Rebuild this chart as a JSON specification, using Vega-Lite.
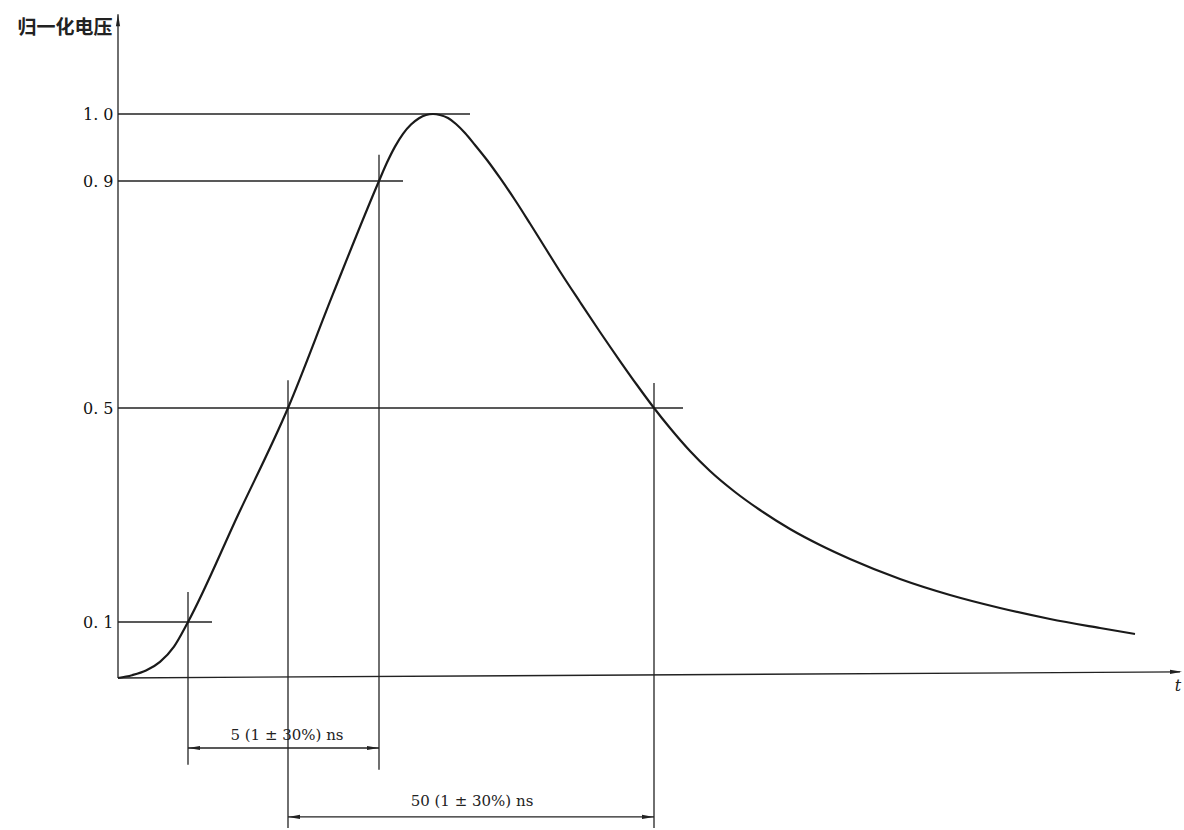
{
  "$schema": "https://vega.github.io/schema/vega-lite/v6.json",
  "autosize": "none",
  "padding": {"left": 118, "top": 0, "right": 0, "bottom": 0},
  "width": 1066,
  "height": 830,
  "background": "white",
  "config": {"view": {"stroke": null}},
  "datasets": {
    "curve": [
      {"t": 0, "v": 0}, {"t": 14, "v": 0.005}, {"t": 28, "v": 0.0132}, {"t": 42, "v": 0.0287},
      {"t": 56, "v": 0.0561}, {"t": 70, "v": 0.1}, {"t": 120, "v": 0.3}, {"t": 170, "v": 0.5},
      {"t": 215, "v": 0.701}, {"t": 261, "v": 0.9}, {"t": 269, "v": 0.9275}, {"t": 277, "v": 0.9513},
      {"t": 285, "v": 0.9704}, {"t": 293, "v": 0.9842}, {"t": 301, "v": 0.9937}, {"t": 308, "v": 0.9985},
      {"t": 315, "v": 1.0}, {"t": 322, "v": 0.9985}, {"t": 330, "v": 0.994}, {"t": 338, "v": 0.9851},
      {"t": 347, "v": 0.9716}, {"t": 357, "v": 0.9537}, {"t": 369, "v": 0.9313}, {"t": 382, "v": 0.9045},
      {"t": 397, "v": 0.8665}, {"t": 412, "v": 0.8251}, {"t": 427, "v": 0.7828}, {"t": 442, "v": 0.7405},
      {"t": 462, "v": 0.6868}, {"t": 482, "v": 0.6339}, {"t": 502, "v": 0.5828}, {"t": 519, "v": 0.5405},
      {"t": 536, "v": 0.5}, {"t": 552, "v": 0.4626}, {"t": 572, "v": 0.4196}, {"t": 592, "v": 0.3822},
      {"t": 617, "v": 0.343}, {"t": 642, "v": 0.3093}, {"t": 672, "v": 0.2738}, {"t": 702, "v": 0.2439},
      {"t": 732, "v": 0.2178}, {"t": 782, "v": 0.1804}, {"t": 832, "v": 0.1505}, {"t": 882, "v": 0.1262},
      {"t": 932, "v": 0.1056}, {"t": 982, "v": 0.0893}, {"t": 1017, "v": 0.0786}
    ],
    "segments": [
      {"kind": "axis", "t": 0, "t2": 0, "v": 0, "v2": 1.149},
      {"kind": "axis", "t": 0, "t2": 1062, "v": 0, "v2": 0.011},
      {"kind": "ref", "t": 0, "t2": 352, "v": 1.0, "v2": 1.0},
      {"kind": "ref", "t": 0, "t2": 285, "v": 0.9, "v2": 0.9},
      {"kind": "ref", "t": 0, "t2": 565, "v": 0.5, "v2": 0.5},
      {"kind": "ref", "t": 0, "t2": 94, "v": 0.1, "v2": 0.1},
      {"kind": "ref", "t": 70, "t2": 70, "v": -0.155, "v2": 0.156},
      {"kind": "ref", "t": 170, "t2": 170, "v": -0.268, "v2": 0.549},
      {"kind": "ref", "t": 261, "t2": 261, "v": -0.164, "v2": 0.939},
      {"kind": "ref", "t": 536, "t2": 536, "v": -0.268, "v2": 0.544},
      {"kind": "ref", "t": 70, "t2": 261, "v": -0.125, "v2": -0.125},
      {"kind": "ref", "t": 170, "t2": 536, "v": -0.248, "v2": -0.248}
    ],
    "arrows": [
      {"t": 0, "v": 1.149, "dir": "up"},
      {"t": 1064, "v": 0.011, "dir": "right"},
      {"t": 70, "v": -0.125, "dir": "left"},
      {"t": 261, "v": -0.125, "dir": "right"},
      {"t": 170, "v": -0.248, "dir": "left"},
      {"t": 536, "v": -0.248, "dir": "right"}
    ],
    "labels": [
      {"t": 169, "v": -0.102, "text": "5 (1 ± 30%)  ns"},
      {"t": 354, "v": -0.220, "text": "50 (1 ± 30%)  ns"}
    ],
    "tlabel": [
      {"t": 1060, "v": -0.014, "text": "t"}
    ]
  },
  "encoding": {
    "x": {
      "field": "t", "type": "quantitative",
      "scale": {"domain": [0, 1066], "range": [0, 1066], "zero": false, "nice": false},
      "axis": null
    },
    "y": {
      "field": "v", "type": "quantitative",
      "scale": {"type": "linear", "domain": [0, 0.1, 0.5, 0.9, 1.0], "range": [678, 622, 408, 181, 114], "zero": false, "nice": false},
      "axis": {
        "title": "归一化电压",
        "titleAngle": 0, "titleX": -6, "titleY": 27, "titleAlign": "right", "titleBaseline": "middle",
        "titleFont": "Noto Sans CJK SC", "titleFontSize": 19, "titleFontWeight": "bold", "titleColor": "#222",
        "values": [0.1, 0.5, 0.9, 1.0],
        "labelExpr": "replace(format(datum.value, '.1f'), '.', '. ')",
        "labelFont": "DejaVu Serif", "labelFontSize": 16, "labelColor": "#111", "labelPadding": 5,
        "domain": false, "ticks": false, "grid": false
      }
    }
  },
  "layer": [
    {
      "data": {"name": "segments"},
      "mark": {"type": "rule", "color": "#222", "strokeWidth": 1.3},
      "encoding": {
        "x2": {"field": "t2"},
        "y2": {"field": "v2"},
        "strokeWidth": {"field": "kind", "type": "nominal", "scale": {"domain": ["axis", "ref"], "range": [1.6, 1.2]}, "legend": null}
      }
    },
    {
      "data": {"name": "curve"},
      "mark": {"type": "line", "color": "#1a1a1a", "strokeWidth": 2.2, "interpolate": "monotone"}
    },
    {
      "data": {"name": "arrows"},
      "mark": {"type": "point", "filled": true, "color": "#222", "size": 144, "opacity": 1},
      "encoding": {
        "shape": {
          "field": "dir", "type": "nominal",
          "scale": {"domain": ["up", "right", "left"], "range": ["M0,0L-0.35,2L0.35,2Z", "M0,0L-2,-0.35L-2,0.35Z", "M0,0L2,-0.35L2,0.35Z"]},
          "legend": null
        }
      }
    },
    {
      "data": {"name": "labels"},
      "mark": {"type": "text", "font": "DejaVu Serif", "fontSize": 15, "color": "#222", "align": "center", "baseline": "middle"},
      "encoding": {"text": {"field": "text"}}
    },
    {
      "data": {"name": "tlabel"},
      "mark": {"type": "text", "font": "DejaVu Serif", "fontSize": 16, "fontStyle": "italic", "color": "#222", "align": "center", "baseline": "middle"},
      "encoding": {"text": {"field": "text"}}
    }
  ]
}
